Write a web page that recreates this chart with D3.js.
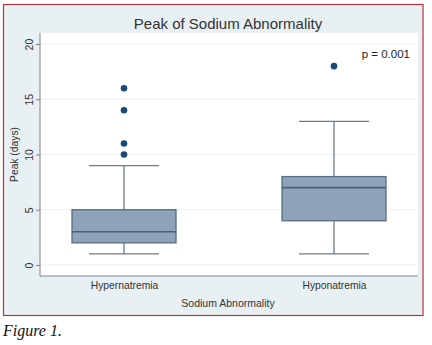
<!DOCTYPE html>
<html><head><meta charset="utf-8">
<script src="https://cdn.jsdelivr.net/npm/d3@7"></script>
<style>body{margin:0;background:#fff}svg{display:block}</style>
</head><body>
<script>
const categories = ["Hypernatremia", "Hyponatremia"];
const whiskLow = [1, 1];
const q1 = [2, 4];
const median = [3, 7];
const q3 = [5, 8];
const whiskHigh = [9, 13];
const outliers = [[10, 11, 14, 16], [18]];
const yTicks = [0, 5, 10, 15, 20];

const W = 432, H = 345;
const svg = d3.select("body").append("svg").attr("width", W).attr("height", H);
svg.append("rect").attr("width", W).attr("height", H).attr("fill", "#fff");
// outer frame
svg.append("rect").attr("x", 3.5).attr("y", 4.5).attr("width", 419.5).attr("height", 311)
  .attr("fill", "#e9f0f4").attr("stroke", "#b8333a").attr("stroke-width", 1.2);

const L = 40, R = 418, T = 33, B = 276;
svg.append("rect").attr("x", L).attr("y", T).attr("width", R - L).attr("height", B - T).attr("fill", "#ffffff");

const x = d3.scalePoint().domain(categories).range([L, R]).padding(0.4);
const y = d3.scaleLinear().domain([-1, 21]).range([B, T]);

// gridlines
svg.append("g").selectAll("line").data(yTicks).join("line")
  .attr("x1", L).attr("x2", R).attr("y1", d => y(d)).attr("y2", d => y(d))
  .attr("stroke", "#eaf0f3").attr("stroke-width", 1);

const font = "Arial, Liberation Sans, sans-serif";
// axes
const yAxis = svg.append("g").attr("transform", `translate(${L},0)`)
  .call(d3.axisLeft(y).tickValues(yTicks).tickSize(4).tickPadding(3));
yAxis.select(".domain").attr("stroke", "#7d848c").attr("d", `M0,${T}V${B}`);
yAxis.selectAll(".tick line").attr("stroke", "#7d848c");
yAxis.selectAll(".tick text").attr("font-family", font)
  .attr("font-size", 10.5).attr("fill", "#333")
  .attr("transform", "rotate(-90)").attr("x", 0).attr("y", -7.5).attr("dy", "0")
  .attr("text-anchor", "middle");

const xAxis = svg.append("g").attr("transform", `translate(0,${B})`)
  .call(d3.axisBottom(x).tickSize(0).tickPadding(6));
xAxis.select(".domain").attr("stroke", "#7d848c").attr("d", `M${L},0H${R}`);
xAxis.selectAll(".tick text").attr("font-family", font)
  .attr("font-size", 10.3).attr("fill", "#333");

// boxes
const boxW = 104, capW = 70;
const g = svg.append("g");
categories.forEach((c, i) => {
  const cx = x(c);
  const stroke = "#6c7b8c";
  g.append("line").attr("x1", cx).attr("x2", cx).attr("y1", y(whiskLow[i])).attr("y2", y(q1[i]))
    .attr("stroke", stroke).attr("stroke-width", 1.3);
  g.append("line").attr("x1", cx).attr("x2", cx).attr("y1", y(q3[i])).attr("y2", y(whiskHigh[i]))
    .attr("stroke", stroke).attr("stroke-width", 1.3);
  [whiskLow[i], whiskHigh[i]].forEach(v => g.append("line")
    .attr("x1", cx - capW / 2).attr("x2", cx + capW / 2).attr("y1", y(v)).attr("y2", y(v))
    .attr("stroke", stroke).attr("stroke-width", 1.3));
  g.append("rect").attr("x", cx - boxW / 2).attr("width", boxW)
    .attr("y", y(q3[i])).attr("height", y(q1[i]) - y(q3[i]))
    .attr("fill", "#8ea2b8").attr("stroke", "#596d85").attr("stroke-width", 1.3);
  g.append("line").attr("x1", cx - boxW / 2).attr("x2", cx + boxW / 2)
    .attr("y1", y(median[i])).attr("y2", y(median[i]))
    .attr("stroke", "#4e6079").attr("stroke-width", 1.6);
  g.selectAll(null).data(outliers[i]).join("circle")
    .attr("cx", cx).attr("cy", d => y(d)).attr("r", 3.3).attr("fill", "#1b4a78");
});

svg.append("text").attr("x", 228).attr("y", 29).attr("text-anchor", "middle")
  .attr("font-family", font).attr("font-size", 15).attr("fill", "#333").text("Peak of Sodium Abnormality");
svg.append("text").attr("x", 410).attr("y", 58).attr("text-anchor", "end")
  .attr("font-family", font).attr("font-size", 11.5).attr("fill", "#222").text("p = 0.001");
svg.append("text").attr("transform", `translate(18,${(T + B) / 2}) rotate(-90)`).attr("text-anchor", "middle")
  .attr("font-family", font).attr("font-size", 10.3).attr("fill", "#333").text("Peak (days)");
svg.append("text").attr("x", 228).attr("y", 307).attr("text-anchor", "middle")
  .attr("font-family", font).attr("font-size", 10.5).attr("fill", "#333").text("Sodium Abnormality");
svg.append("text").attr("x", 3).attr("y", 336)
  .attr("font-family", "Liberation Serif, DejaVu Serif, serif").attr("font-style", "italic")
  .attr("font-size", 16).attr("fill", "#111").text("Figure 1.");
</script>
</body></html>
